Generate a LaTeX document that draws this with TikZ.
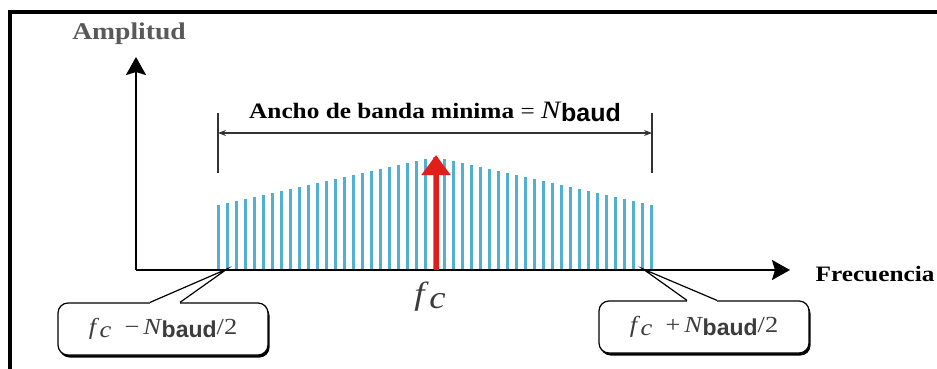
\documentclass[tikz,border=0pt]{standalone}
\usepackage{fontspec}
\setmainfont{Liberation Serif}
\setsansfont{Liberation Sans}
\newfontfamily\widefont[FakeStretch=1.15]{Liberation Serif}
\usetikzlibrary{arrows.meta,shadows}
\definecolor{barblue}{RGB}{80,175,210}
\definecolor{sigred}{RGB}{225,30,25}
\definecolor{txtgray}{RGB}{60,60,60}
\newcommand{\fsub}{\textit{f}\kern0.5pt\raisebox{-0.25ex}{\textit{c}}}
\newcommand{\Nb}{\textit{N}\kern-0.5pt\raisebox{-0.3ex}{\sffamily\bfseries baud}}

\begin{document}
\begin{tikzpicture}[x=1pt, y=-1pt, >={Stealth[length=18pt, width=20pt, inset=3pt]},
    axis/.style={line width=2.5pt, ->},
    bar/.style={line width=3pt, barblue},
    dim/.style={line width=1.2pt, black!80},
    lbl/.style={font=\widefont\bfseries\fontsize{22}{22}\selectfont},
    callout/.style={draw, line width=1.2pt, rounded corners=10pt, fill=white,
        minimum width=210pt, minimum height=52pt, inner sep=0pt, text=txtgray,
        drop shadow={shadow xshift=1.5pt, shadow yshift=-2.5pt, opacity=1, fill=black},
        font=\widefont\fontsize{23}{23}\selectfont}]
    \useasboundingbox (0,0) rectangle (937,369);
    \fill[white] (0,0) rectangle (937,369);
    \draw[line width=4pt] (10,369) -- (10,12) -- (937,12);

    \coordinate (o) at (136,270);
    \coordinate (ytop) at (136,57);
    \coordinate (xend) at (790,270);

    % spectral lines
    \foreach \i in {0,...,48}{
        \pgfmathsetmacro\bx{218+\i*9.04}
        \pgfmathsetmacro\bh{65+48*(1-abs(\bx-435)/217)}
        \draw[bar] (\bx,270) -- (\bx,{270-\bh});
    }

    \draw[axis] (o) -- (ytop);
    \draw[axis] (o) -- (xend);
    \node[lbl, text=txtgray!85, font=\widefont\bfseries\fontsize{24}{24}\selectfont] (amp) at (129,34) {Amplitud};
    \node[lbl, anchor=west] (freq) at (812,274) {Frecuencia};

    % carrier
    \coordinate (fcbase) at (436,270);
    \coordinate (fcpeak) at (436,155);
    \draw[line width=5pt, sigred, -{Triangle[length=20pt, width=28pt]}] (fcbase) -- (fcpeak);
    \node[font=\widefont\fontsize{32}{32}\selectfont, text=txtgray] (fc) at (430,297) {\fsub};

    % bandwidth
    \coordinate (bwl) at (218,133);
    \coordinate (bwr) at (652,133);
    \draw[dim] (218,113) -- (218,173);
    \draw[dim] (652,113) -- (652,173);
    \draw[dim, {Stealth[length=8pt, width=6pt]}-{Stealth[length=8pt, width=6pt]}] (bwl) -- (bwr);
    \node[lbl, anchor=base] (bw) at (435,118) {Ancho de banda minima {\mdseries = \fontsize{25}{25}\selectfont\Nb}};

    % band edges
    \node[callout] (lo) at (163,329) {\fsub\ \ −\,\Nb/2};
    \node[callout] (hi) at (704,327) {\fsub\ \ +\,\Nb/2};
    \coordinate (lotip) at (227,269);
    \coordinate (hitip) at (643,269);
    \fill[white] ([xshift=-13pt, yshift=3pt]lo.north) rectangle ([xshift=17pt, yshift=-3pt]lo.north);
    \draw[line width=1.2pt] ([xshift=-13pt]lo.north) -- (lotip) -- ([xshift=17pt]lo.north);
    \fill[white] ([xshift=-17pt, yshift=3pt]hi.north) rectangle ([xshift=13pt, yshift=-3pt]hi.north);
    \draw[line width=1.2pt] ([xshift=-17pt]hi.north) -- (hitip) -- ([xshift=13pt]hi.north);
\end{tikzpicture}
\end{document}
